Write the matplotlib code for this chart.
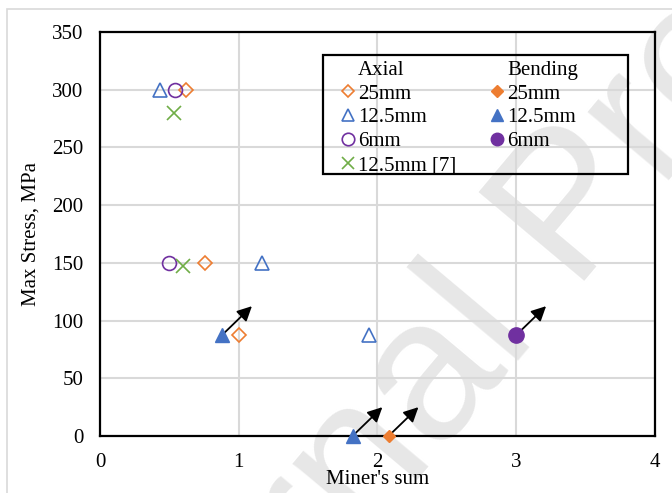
import numpy as np
import matplotlib.pyplot as plt
from matplotlib.lines import Line2D
from matplotlib.patches import Rectangle

plt.rcParams['font.family'] = ['Liberation Serif', 'DejaVu Serif']

# Axial loading
ax25_x = [0.62, 0.76, 1.0]
ax25_y = [300, 150, 87.5]
ax125_x = [0.43, 1.17, 1.94]
ax125_y = [300, 150, 87.5]
ax6_x = [0.54, 0.50]
ax6_y = [300, 150]
ref7_x = [0.53, 0.60]
ref7_y = [280, 147]

# Bending loading
bd25_x = [2.08]
bd25_y = [0]
bd125_x = [0.88, 1.82]
bd125_y = [87.5, 0]
bd6_x = [3.0]
bd6_y = [87.5]

orange = '#ED7D31'
blue = '#4472C4'
purple = '#7030A0'
green = '#70AD47'

fig = plt.figure(figsize=(6.72, 4.93), dpi=100)
ax = fig.add_axes([0.1488, 0.1156, 0.8259, 0.8194])
ax.patch.set_alpha(0)

# watermark behind everything
fig.text(0.170, -0.708, 'Journal Pre-proof', rotation=50, rotation_mode='anchor',
         ha='left', va='baseline', fontsize=145, color='#e7e7e7',
         family='Liberation Sans', zorder=-5)
# faint page border
fig.patches.append(Rectangle((7 / 672, -0.1), 1.2, 1 - 9 / 493 + 0.1, transform=fig.transFigure,
                             fill=False, edgecolor='#d9d9d9', lw=1.2, zorder=-6))

ax.plot(ax25_x, ax25_y, ls='none', marker='D', ms=7, mfc='none', mec=orange, mew=1.2, clip_on=False)
ax.plot(ax125_x, ax125_y, ls='none', marker='^', ms=10, mfc='none', mec=blue, mew=1.2, clip_on=False)
ax.plot(ax6_x, ax6_y, ls='none', marker='o', ms=10, mfc='none', mec=purple, mew=1.2, clip_on=False)
ax.plot(ref7_x, ref7_y, ls='none', marker='x', ms=10, mec=green, mew=1.2, clip_on=False)
ax.plot(bd25_x, bd25_y, ls='none', marker='D', ms=6.5, color=orange, clip_on=False, zorder=5)
ax.plot(bd125_x, bd125_y, ls='none', marker='^', ms=10, color=blue, clip_on=False, zorder=5)
ax.plot(bd6_x, bd6_y, ls='none', marker='o', ms=11, color=purple, clip_on=False, zorder=5)

# arrows on the bending run-outs
bx = bd25_x + bd125_x + bd6_x
by = bd25_y + bd125_y + bd6_y
for x, y in zip(bx, by):
    ax.annotate('', xy=(x + 0.215, y + 25), xytext=(x, y),
                arrowprops=dict(arrowstyle='-|>', color='black', lw=1.3,
                                mutation_scale=22, shrinkA=0, shrinkB=0))

ax.set_xlim(0, 4)
ax.set_ylim(0, 350)
ax.set_xticks(np.arange(0, 5, 1))
ax.set_yticks(np.arange(0, 351, 50))
ax.grid(True, color='#d9d9d9', lw=1.5)
ax.set_axisbelow(True)
ax.tick_params(length=0, labelsize=15, pad=12)
for s in ax.spines.values():
    s.set_linewidth(1.6)
    s.set_color('black')
ax.set_xlabel("Miner's sum", fontsize=15, labelpad=-1)
ax.set_ylabel('Max Stress, MPa', fontsize=15, labelpad=8)

blank = Line2D([], [], ls='none')
handles = [blank,
           Line2D([], [], ls='none', marker='D', ms=6.5, mfc='none', mec=orange, mew=1.2),
           Line2D([], [], ls='none', marker='^', ms=9, mfc='none', mec=blue, mew=1.2),
           Line2D([], [], ls='none', marker='o', ms=9, mfc='none', mec=purple, mew=1.2),
           Line2D([], [], ls='none', marker='x', ms=9, mec=green, mew=1.2),
           blank,
           Line2D([], [], ls='none', marker='D', ms=6.5, color=orange),
           Line2D([], [], ls='none', marker='^', ms=9, color=blue),
           Line2D([], [], ls='none', marker='o', ms=9, color=purple),
           blank]
labels = ['Axial', '25mm', '12.5mm', '6mm', '12.5mm [7]',
          'Bending', '25mm', '12.5mm', '6mm', '']
ax.legend(handles, labels, ncol=2, loc='upper left', bbox_to_anchor=(0.4398, 0.9306),
          fontsize=15, frameon=False, handlelength=0.385, handletextpad=0.29,
          labelspacing=0.207, columnspacing=1.78, borderpad=0, borderaxespad=0)
# legend frame is wider than its entries
ax.add_patch(Rectangle((0.402, 0.6485), 0.549, 0.2945, transform=ax.transAxes,
                       fill=False, edgecolor='black', lw=1.6, zorder=6))

fig.savefig('out.png', dpi=100)
